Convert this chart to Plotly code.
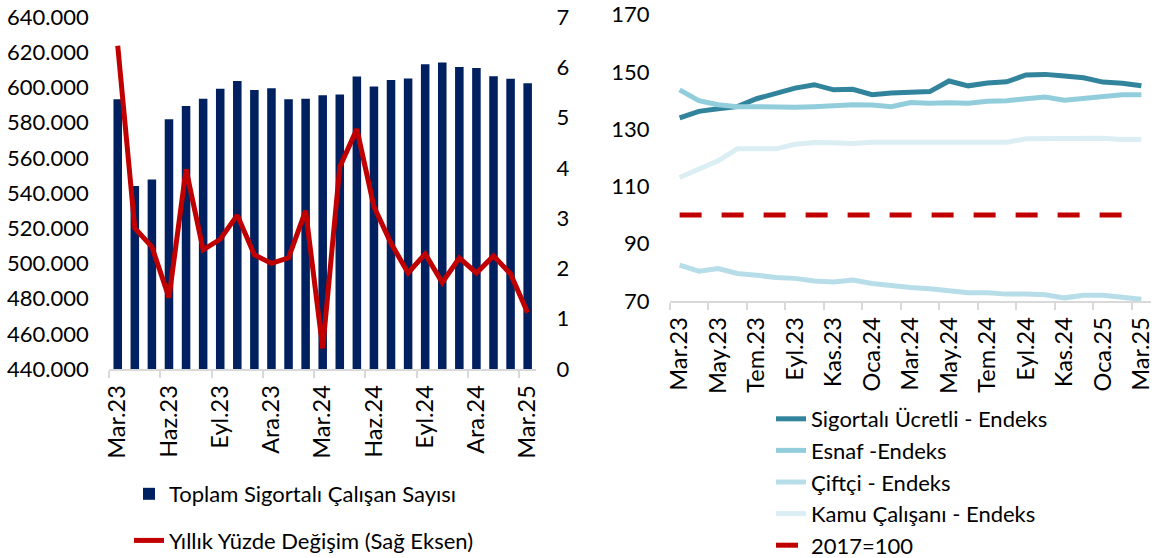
import plotly.graph_objects as go

# ---------------- data ----------------
months = ["Mar.23", "Nis.23", "May.23", "Haz.23", "Tem.23", "Ağu.23", "Eyl.23", "Eki.23",
          "Kas.23", "Ara.23", "Oca.24", "Şub.24", "Mar.24", "Nis.24", "May.24", "Haz.24",
          "Tem.24", "Ağu.24", "Eyl.24", "Eki.24", "Kas.24", "Ara.24", "Oca.25", "Şub.25", "Mar.25"]

toplam = [593200, 544000, 547600, 581900, 589400, 593600, 599300, 603600, 598500, 599500,
          593200, 593600, 595500, 595900, 606200, 600500, 604200, 605100, 613100, 614200,
          611600, 611000, 606300, 604900, 602300]
yillik = [6.43, 2.80, 2.43, 1.42, 3.97, 2.37, 2.58, 3.06, 2.27, 2.10, 2.21, 3.15, 0.41,
          4.02, 4.77, 3.23, 2.50, 1.91, 2.29, 1.72, 2.21, 1.91, 2.25, 1.89, 1.12]

sigortali = [133.9, 136.2, 137.1, 137.9, 140.6, 142.5, 144.3, 145.5, 143.7, 143.9, 142.0, 142.6,
             142.9, 143.1, 146.8, 145.1, 146.1, 146.5, 148.9, 149.1, 148.5, 147.9, 146.4, 146.0, 145.1]
esnaf = [143.7, 139.9, 138.5, 137.8, 137.8, 137.6, 137.6, 137.8, 138.2, 138.5, 138.4, 137.8,
         139.3, 139.0, 139.2, 139.0, 139.7, 139.9, 140.6, 141.2, 140.1, 140.8, 141.1, 142.0, 142.0]
ciftci = [82.5, 80.4, 81.3, 79.6, 79.0, 78.2, 77.9, 77.0, 76.6, 77.3, 76.1, 75.2, 74.7, 74.3,
          73.8, 72.9, 72.9, 72.4, 72.4, 72.2, 71.1, 72.0, 72.0, 71.1, 70.6]
kamu = [113.1, 115.9, 118.9, 123.1, 123.1, 123.1, 124.7, 125.3, 125.2, 125.0, 125.4, 125.4,
        125.4, 125.4, 125.2, 125.1, 125.4, 125.4, 126.6, 126.7, 126.7, 126.8, 126.8, 126.4, 126.4]
baz = [100, 100, 100, 100, 100, 100, 100, 100, 100, 100, 100, 100, 100,
       100, 100, 100, 100, 100, 100, 100, 100, 100, 100, 100, 100]

left_ticks = months[::3]
right_ticks = months[::2]

# ---------------- figure ----------------
FONT = "Lato"
FS = 22
FS_X = 23.5
idx = list(range(len(months)))
AXIS_GREY = "#D9D9D9"

fig = go.Figure()

fig.add_trace(go.Bar(x=idx, y=toplam, name="Toplam Sigortalı Çalışan Sayısı",
                     marker=dict(color="#002060", line=dict(width=0)), width=0.5,
                     xaxis="x", yaxis="y", legend="legend", legendgroup="a"))
fig.add_trace(go.Scatter(x=idx, y=yillik, mode="lines", name="Yıllık Yüzde Değişim (Sağ Eksen)",
                         line=dict(color="#C00000", width=5),
                         xaxis="x", yaxis="y2", legend="legend", legendgroup="b"))

right_series = [
    ("Sigortalı Ücretli - Endeks", sigortali, "#31849B", "solid"),
    ("Esnaf -Endeks", esnaf, "#92CDDC", "solid"),
    ("Çiftçi - Endeks", ciftci, "#B7DEE8", "solid"),
    ("Kamu Çalışanı - Endeks", kamu, "#DAEEF3", "solid"),
    ("2017=100", baz, "#C00000", "22px,20px"),
]
for i, (nm, vals, col, dash) in enumerate(right_series):
    fig.add_trace(go.Scatter(x=idx, y=vals, mode="lines", name=nm,
                             line=dict(color=col, width=5, dash=dash),
                             xaxis="x2", yaxis="y3", legend="legend2", legendgroup="r%d" % i))

# full-window figure (page body margin removed in post_script)
W, H = 1157, 558

def dom_x(a, b):
    return [a / W, b / W]

def dom_y(bottom, top):
    return [(H - bottom) / H, (H - top) / H]

tf = dict(family=FONT, size=FS, color="#000000")
tfx = dict(family=FONT, size=FS_X, color="#000000")
common_x = dict(range=[-0.5, 24.5], tickangle=-90, showline=True, linecolor=AXIS_GREY, linewidth=1.5,
                ticks="", showgrid=False, zeroline=False, automargin=False, tickfont=tfx,
                ticklabelstandoff=5, ticklabeloverflow="allow")
common_y = dict(showgrid=False, zeroline=False, showline=False, automargin=False,
                ticks="outside", ticklen=15, tickcolor="rgba(0,0,0,0)", tickfont=tf,
                ticklabeloverflow="allow")

fig.update_layout(
    width=W, height=H,
    margin=dict(l=0, r=0, t=0, b=0, autoexpand=False),
    paper_bgcolor="white", plot_bgcolor="white",
    separators=",.",
    font=dict(family=FONT, size=FS, color="#000000"),
    showlegend=True,
    xaxis=dict(domain=dom_x(109.2, 536.2), anchor="y",
               tickmode="array", tickvals=idx[::3], ticktext=left_ticks,
               minor=dict(tickmode="array", tickvals=[v - 0.5 for v in idx[::3]],
                          ticks="outside", ticklen=7, tickwidth=1.5, tickcolor=AXIS_GREY),
               **common_x),
    yaxis=dict(domain=dom_y(369, 17), anchor="x", range=[440000, 640000], dtick=20000,
               tickformat=",d", **common_y),
    yaxis2=dict(overlaying="y", anchor="x", side="right", range=[0, 7], dtick=1, **common_y),
    xaxis2=dict(domain=dom_x(670, 1151), anchor="y3",
                tickmode="array", tickvals=idx[::2], ticktext=right_ticks,
                minor=dict(tickmode="array", tickvals=[v - 0.5 for v in idx[::2]],
                           ticks="outside", ticklen=7, tickwidth=1.5, tickcolor=AXIS_GREY),
                **common_x),
    yaxis3=dict(domain=dom_y(301, 14.5), anchor="x2", range=[70, 170], tick0=70, dtick=20,
                **common_y),
    legend=dict(x=129 / W, y=(H - 473) / H, xanchor="left", yanchor="top",
                bgcolor="rgba(0,0,0,0)", traceorder="grouped", tracegroupgap=15,
                font=tf),
    legend2=dict(x=771 / W, y=(H - 398) / H, xanchor="left", yanchor="top",
                 bgcolor="rgba(0,0,0,0)", traceorder="grouped", tracegroupgap=0,
                 font=tf),
)

fig.write_html("out.html", config={"displayModeBar": False},
               post_script="document.body.style.margin='0';document.body.style.padding='0';")
